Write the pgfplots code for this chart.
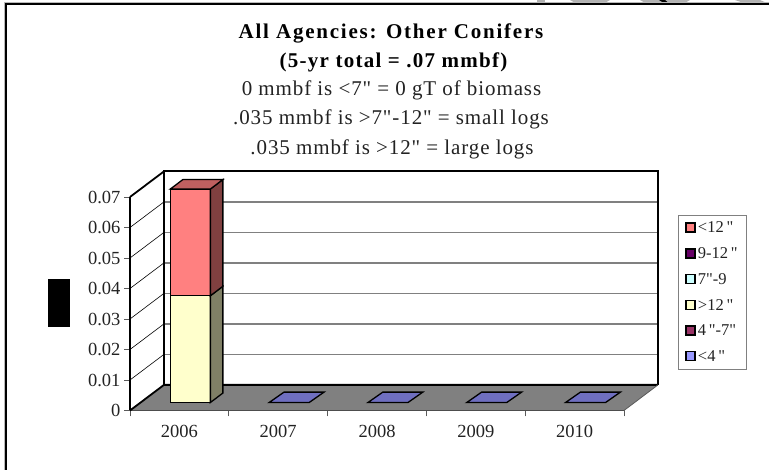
\documentclass[border=0pt]{standalone}
\usepackage{fontspec}
\setmainfont{Liberation Serif}[Ligatures=TeXOff]
\usepackage{pgfplots}
\pgfplotsset{compat=1.18}
\definecolor{cUnderFour}{HTML}{9999FF}
\definecolor{cFourSeven}{HTML}{993366}
\definecolor{cOverTwelve}{HTML}{FFFFCC}
\definecolor{cSevenNine}{HTML}{CCFFFF}
\definecolor{cNineTwelve}{HTML}{660066}
\definecolor{cUnderTwelve}{HTML}{FF8080}
\definecolor{cFloor}{HTML}{808080}
\definecolor{cPlate}{HTML}{6F6FC0}
\definecolor{cTxt}{HTML}{222222}
\pgfplotsset{
    sameframe/.style={
        at={(130pt,59.5pt)},
        anchor=south west,
        scale only axis,
        width=494pt,
        height=213.5pt,
        clip=false,
        xmin=0, xmax=5,
        ymin=0, ymax=0.07,
    },
    barpos/.style={draw=black,line width=1.3pt,xshift=11pt,yshift=8pt},
}
\begin{document}
\begin{tikzpicture}[x=1pt,y=1pt]
\path[use as bounding box] (0,0) rectangle (769,470);
% page frame and the scrap of clip art cut off along the top
\fill[gray!60] (537,470) rectangle (545,466.5);
\fill[gray!60] (570,470) -- (610,470) -- (604,466.5) -- (576,466.5) -- cycle;
\fill[gray!60] (640,470) -- (690,470) -- (684,466.5) -- (646,466.5) -- cycle;
\fill[gray!60] (735,470) -- (760,470) -- (768,466.5) -- (745,466.5) -- cycle;
\fill[black] (659,470) -- (665,470) -- (671,465) -- (667,465) -- cycle;
\draw[gray!55,line width=1pt] (4.5,0) -- (4.5,467) -- (769,467);
\draw[black,line width=2pt] (6,0) -- (6,465.5) -- (769,465.5);
\fill[black] (48,143) rectangle (70,191);
% titles
\node[font=\fontsize{21}{21}\bfseries\selectfont\addfontfeature{LetterSpace=8.5},text=black] at (391,436.5) {All Agencies: Other Conifers};
\node[font=\fontsize{21}{21}\bfseries\selectfont\addfontfeature{LetterSpace=6},text=black] at (393.5,407.5) {(5-yr total = .07 mmbf)};
\node[font=\fontsize{21}{21}\selectfont\addfontfeature{LetterSpace=4.3},text=cTxt] at (391.5,380) {0 mmbf is <7" = 0 gT of biomass};
\node[font=\fontsize{21}{21}\selectfont\addfontfeature{LetterSpace=4.3},text=cTxt] at (391,350.5) {.035 mmbf is >7"-12" = small logs};
\node[font=\fontsize{21}{21}\selectfont\addfontfeature{LetterSpace=4.3},text=cTxt] at (392,320.5) {.035 mmbf is >12" = large logs};
% walls, floor, ticks, empty years
\begin{axis}[
    sameframe,
    axis x line*=bottom,
    axis y line*=left,
    axis line style={line width=0.8pt},
    x axis line style={color=cFloor!60!black,-},
    y axis line style={color=black,-},
    xtick={0,1,2,3,4,5},
    xticklabels={},
    extra x ticks={0.5,1.5,2.5,3.5,4.5},
    extra x tick labels={2006,2007,2008,2009,2010},
    extra x tick style={major tick length=0pt,tick label style={yshift=-11pt}},
    ytick={0,0.01,0.02,0.03,0.04,0.05,0.06,0.07},
    yticklabels={0,0.01,0.02,0.03,0.04,0.05,0.06,0.07},
    scaled y ticks=false,
    tick style={color=cFloor!70!black,line width=0.8pt},
    tick align=outside,
    major tick length=6pt,
    tick label style={font=\fontsize{18.5}{19}\selectfont,text=cTxt},
]
\addplot[fill=white,draw=none] coordinates {(0,0)(0,0.07)(0.344,0.0784)(0.344,0.0084)} -- cycle;
\addplot[fill=cFloor,draw=none] coordinates {(0,0)(5,0)(5.344,0.0084)(0.344,0.0084)} -- cycle;
% back wall grid
\addplot[cFloor,line width=1.5pt] coordinates {(0.344,0.0184)(5.344,0.0184)};
\addplot[cFloor,line width=1.5pt] coordinates {(0.344,0.0284)(5.344,0.0284)};
\addplot[cFloor,line width=1.5pt] coordinates {(0.344,0.0384)(5.344,0.0384)};
\addplot[cFloor,line width=1.5pt] coordinates {(0.344,0.0484)(5.344,0.0484)};
\addplot[cFloor,line width=1.5pt] coordinates {(0.344,0.0584)(5.344,0.0584)};
\addplot[cFloor,line width=1.5pt] coordinates {(0.344,0.0684)(5.344,0.0684)};
% left wall grid
\addplot[black,line width=0.6pt] coordinates {(0,0.01)(0.344,0.0184)};
\addplot[black,line width=0.6pt] coordinates {(0,0.02)(0.344,0.0284)};
\addplot[black,line width=0.6pt] coordinates {(0,0.03)(0.344,0.0384)};
\addplot[black,line width=0.6pt] coordinates {(0,0.04)(0.344,0.0484)};
\addplot[black,line width=0.6pt] coordinates {(0,0.05)(0.344,0.0584)};
\addplot[black,line width=0.6pt] coordinates {(0,0.06)(0.344,0.0684)};
% wall outlines
\addplot[black,line width=1.3pt] coordinates {(0,0)(0,0.07)};
\addplot[cFloor!60!black,line width=0.9pt] coordinates {(0,0)(5,0)};
\addplot[black,line width=1.8pt] coordinates {(0,0)(0.344,0.0084)(5.344,0.0084)};
\addplot[black,line width=1.8pt] coordinates {(0.344,0.0084)(0.344,0.0784)(5.344,0.0784)(5.344,0.0084)};
\addplot[black,line width=1.8pt] coordinates {(0,0.07)(0.344,0.0784)};
\addplot[cFloor!70!black,line width=0.8pt] coordinates {(5,0)(5.344,0.0084)};
% flat tops of the empty years
\addplot[fill=cPlate,barpos] coordinates {(1.2976,0)(1.7024,0)(1.8524,0.0034)(1.4476,0.0034)} -- cycle;
\addplot[fill=cPlate,barpos] coordinates {(2.2976,0)(2.7024,0)(2.8524,0.0034)(2.4476,0.0034)} -- cycle;
\addplot[fill=cPlate,barpos] coordinates {(3.2976,0)(3.7024,0)(3.8524,0.0034)(3.4476,0.0034)} -- cycle;
\addplot[fill=cPlate,barpos] coordinates {(4.2976,0)(4.7024,0)(4.8524,0.0034)(4.4476,0.0034)} -- cycle;
\end{axis}
% the six size classes, smallest first
\begin{axis}[
    sameframe,
    hide axis,
    ybar stacked,
    bar width=40pt,
    bar shift=0pt,
    reverse legend,
    legend cell align=left,
    legend style={
        at={(1.1093,0.918)},
        anchor=north west,
        draw=cFloor,
        line width=1pt,
        font=\fontsize{16.5}{16.5}\selectfont,
        text=cTxt,
        row sep=9.3pt,
        inner xsep=7pt,
        inner ysep=5pt,
    },
    legend image code/.code={
        \draw[#1,line width=1.5pt,xshift=-8pt,yshift=-8pt] (0pt,-4pt) rectangle (9pt,5pt);
    },
]
\addplot[fill=cUnderFour,barpos] coordinates {(0.5,0)(1.5,0)(2.5,0)(3.5,0)(4.5,0)};
\addplot[fill=cFourSeven,barpos] coordinates {(0.5,0)(1.5,0)(2.5,0)(3.5,0)(4.5,0)};
\addplot[fill=cOverTwelve,barpos] coordinates {(0.5,0.035)(1.5,0)(2.5,0)(3.5,0)(4.5,0)};
\addplot[fill=cSevenNine,barpos] coordinates {(0.5,0)(1.5,0)(2.5,0)(3.5,0)(4.5,0)};
\addplot[fill=cNineTwelve,barpos] coordinates {(0.5,0)(1.5,0)(2.5,0)(3.5,0)(4.5,0)};
\addplot[fill=cUnderTwelve,barpos] coordinates {(0.5,0.035)(1.5,0)(2.5,0)(3.5,0)(4.5,0)};
\legend{<4\,",4\,"-7",>12\,",7"-9,9-12\,",<12\,"}
\end{axis}
% side and top of the 2006 column
\begin{axis}[sameframe,hide axis]
\addplot[fill=cOverTwelve!50!black,barpos] coordinates {(0.7024,0)(0.8289,0.0031)(0.8289,0.0381)(0.7024,0.035)} -- cycle;
\addplot[fill=cUnderTwelve!50!black,barpos] coordinates {(0.7024,0.035)(0.8289,0.0381)(0.8289,0.0731)(0.7024,0.07)} -- cycle;
\addplot[fill=cUnderTwelve!75!black,barpos] coordinates {(0.2976,0.07)(0.7024,0.07)(0.8289,0.0731)(0.4241,0.0731)} -- cycle;
\end{axis}
\end{tikzpicture}
\end{document}
